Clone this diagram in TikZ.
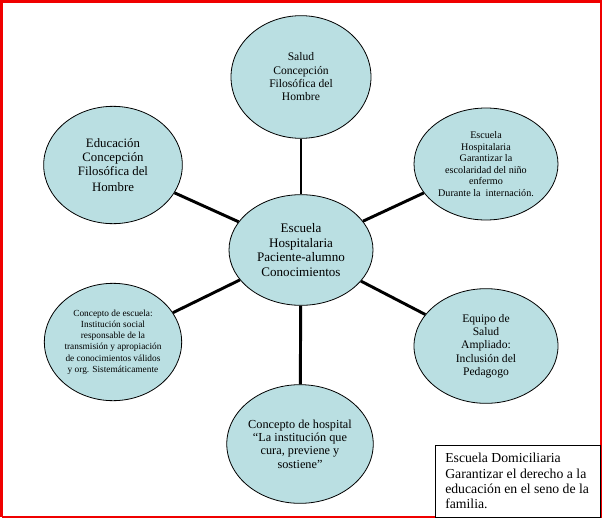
\documentclass[tikz,border=0pt]{standalone}
\usepackage{fontspec}
\setmainfont{Liberation Serif}
\usetikzlibrary{shapes.geometric}
\definecolor{bubble}{RGB}{186,223,226}
\definecolor{framered}{RGB}{240,0,0}
\tikzset{
  bub/.style={ellipse, draw=black, line width=0.6pt, fill=bubble, inner sep=0pt, align=center},
  link/.style={line width=2.2pt, black},
}
\begin{document}
\begin{tikzpicture}[x=0.75pt,y=-0.75pt]
\useasboundingbox (0,0) rectangle (603,521);
\draw[framered, line width=1.5pt] (1.5,517) -- (1.5,1.5) -- (600.5,1.5) -- (600.5,517) -- (435,517);
\draw[framered, line width=1.5pt] (1.5,517) -- (435,517);
% ellipses
\node[bub, minimum width=105pt, minimum height=92pt, font=\fontsize{8.7}{10}\selectfont] (salud) at (301,77)
  {Salud\\Concepción\\Filosófica del\\Hombre};
\node[bub, minimum width=108pt, minimum height=84pt, font=\fontsize{7.6}{8.6}\selectfont] (hosp) at (486,164)
  {Escuela\\Hospitalaria\\Garantizar la\\escolaridad del niño\\enfermo\\Durante la~ internación.};
\node[bub, minimum width=104pt, minimum height=88pt, font=\fontsize{9.6}{10.8}\selectfont] (educ) at (113,165)
  {Educación\\Concepción\\Filosófica del\\[1pt]Hombre};
\node[bub, minimum width=108pt, minimum height=83pt, font=\fontsize{9.8}{11.2}\selectfont] (center) at (301,250)
  {Escuela\\Hospitalaria\\Paciente-alumno\\Conocimientos};
\node[bub, minimum width=103pt, minimum height=88pt, font=\fontsize{7}{8.4}\selectfont] (escuela) at (113,342)
  {Concepto de escuela:\\Institución social\\responsable de la\\transmisión y apropiación\\de conocimientos válidos\\y org. Sistemáticamente};
\node[bub, minimum width=108pt, minimum height=86pt, font=\fontsize{8.7}{10}\selectfont] (equipo) at (486,346)
  {Equipo de\\Salud\\Ampliado:\\Inclusión del\\Pedagogo};
\node[bub, minimum width=102pt, minimum height=89pt, font=\fontsize{9.2}{10}\selectfont] (hospital) at (300,444)
  {Concepto de hospital\\``La institución que\\cura, previene y\\sostiene''};
% connectors
\foreach \n in {salud,hosp,educ,escuela,equipo,hospital}
  \draw[link] (center) -- (\n);
% box
\node[draw=black, line width=0.6pt, fill=white, anchor=north west, minimum width=123.75pt, minimum height=54pt, inner sep=0pt] (dom) at (435,445) {};
\node[anchor=north west, align=left, inner sep=0pt, font=\fontsize{10.3}{11.4}\selectfont] (domtext) at (445,453)
  {Escuela Domiciliaria\\Garantizar el derecho a la\\educación en el seno de la\\familia.};
\end{tikzpicture}
\end{document}
